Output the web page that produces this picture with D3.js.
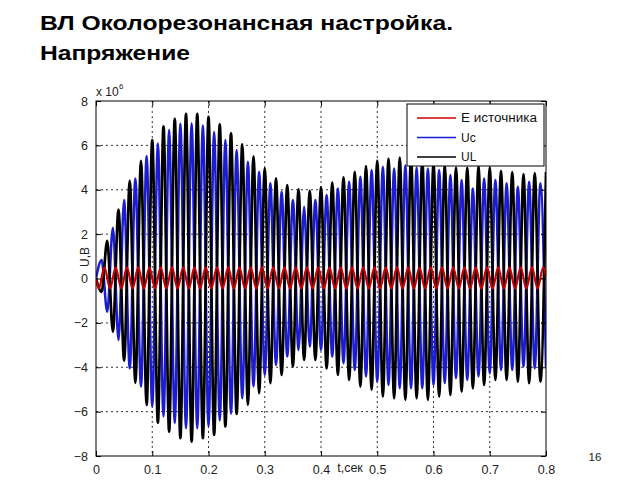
<!DOCTYPE html>
<html><head><meta charset="utf-8">
<script src="https://cdn.jsdelivr.net/npm/d3@7"></script>
<style>
body{margin:0;background:#fff;}
svg{display:block;font-family:"Liberation Sans",Arial,sans-serif;}
</style></head>
<body>
<script>
// ---- data (values in units of 1e6 V), extrema per half cycle ----
const tE = [0,0.005,0.015,0.025,0.035,0.045,0.055,0.065,0.075,0.085,0.095,0.105,0.115,0.125,0.135,0.145,0.155,0.165,0.175,0.185,0.195,0.205,0.215,0.225,0.235,0.245,0.255,0.265,0.275,0.285,0.295,0.305,0.315,0.325,0.335,0.345,0.355,0.365,0.375,0.385,0.395,0.405,0.415,0.425,0.435,0.445,0.455,0.465,0.475,0.485,0.495,0.505,0.515,0.525,0.535,0.545,0.555,0.565,0.575,0.585,0.595,0.605,0.615,0.625,0.635,0.645,0.655,0.665,0.675,0.685,0.695,0.705,0.715,0.725,0.735,0.745,0.755,0.765,0.775,0.785,0.795,0.8];
const E  = [0,-0.45,0.5,-0.45,0.5,-0.45,0.5,-0.45,0.5,-0.45,0.5,-0.45,0.5,-0.45,0.5,-0.45,0.5,-0.45,0.5,-0.45,0.5,-0.45,0.5,-0.45,0.5,-0.45,0.5,-0.45,0.5,-0.45,0.5,-0.45,0.5,-0.45,0.5,-0.45,0.5,-0.45,0.5,-0.45,0.5,-0.45,0.5,-0.45,0.5,-0.45,0.5,-0.45,0.5,-0.45,0.5,-0.45,0.5,-0.45,0.5,-0.45,0.5,-0.45,0.5,-0.45,0.5,-0.45,0.5,-0.45,0.5,-0.45,0.5,-0.45,0.5,-0.45,0.5,-0.45,0.5,-0.45,0.5,-0.45,0.5,-0.45,0.5,-0.45,0.5,0.1];
const tU = [0,0.01,0.02,0.03,0.04,0.05,0.06,0.07,0.08,0.09,0.10,0.11,0.12,0.13,0.14,0.15,0.16,0.17,0.18,0.19,0.20,0.21,0.22,0.23,0.24,0.25,0.26,0.27,0.28,0.29,0.30,0.31,0.32,0.33,0.34,0.35,0.36,0.37,0.38,0.39,0.40,0.41,0.42,0.43,0.44,0.45,0.46,0.47,0.48,0.49,0.50,0.51,0.52,0.53,0.54,0.55,0.56,0.57,0.58,0.59,0.60,0.61,0.62,0.63,0.64,0.65,0.66,0.67,0.68,0.69,0.70,0.71,0.72,0.73,0.74,0.75,0.76,0.77,0.78,0.79,0.80];
const UL = [0,-0.6,1.7,-2.4,3.1,-3.7,4.4,-4.7,5.3,-5.7,6.24,-6.5,6.86,-6.9,7.2,-7.2,7.42,-7.35,7.42,-7.2,7.29,-7.05,6.95,-6.67,6.54,-6.1,6.05,-5.7,5.5,-5.17,4.96,-4.72,4.51,-4.35,4.21,-3.97,4.02,-3.67,3.95,-3.67,4.11,-4.05,4.32,-4.35,4.56,-4.57,4.81,-4.87,5.07,-5.02,5.31,-5.32,5.4,-5.4,5.45,-5.47,5.45,-5.4,5.35,-5.47,5.2,-5.32,5.1,-5.25,5.0,-5.1,5.0,-4.95,5.05,-4.8,5.0,-4.57,4.85,-4.57,4.8,-4.65,4.7,-4.72,4.75,-4.65,4.8];
const Uc = [0,0.83,-1.5,2.29,-2.77,3.54,-4.05,4.51,-4.87,5.52,-5.77,6.09,-6.22,6.69,-6.52,6.99,-6.75,7.0,-6.75,6.91,-6.67,6.6,-6.4,6.24,-6.1,5.79,-5.4,5.26,-4.87,4.81,-4.35,4.29,-3.9,3.91,-3.52,3.54,-3.22,3.23,-3.07,3.54,-3.22,3.76,-3.52,4.06,-3.82,4.36,-4.12,4.59,-4.42,4.89,-4.65,5.04,-4.8,4.96,-4.95,5.1,-4.95,5.0,-4.95,4.96,-4.8,4.89,-4.72,4.66,-4.5,4.44,-4.57,4.06,-4.42,4.51,-4.27,4.44,-4.12,4.29,-4.12,4.14,-3.97,4.36,-4.05,4.29,-4.0];
const xTicks = [0,0.1,0.2,0.3,0.4,0.5,0.6,0.7,0.8];
const yTicks = [-8,-6,-4,-2,0,2,4,6,8];
const legendLabels = ["E  источника","Uc","UL"];
const colors = ["#cc0000","#1c1cd4","#000000"];

const W=640,H=480;
const L=96,R=546,T=101,B=456;
const svg=d3.select("body").append("svg").attr("width",W).attr("height",H);

svg.append("text").attr("x",40).attr("y",30).attr("font-size",21).attr("font-weight","bold").attr("fill","#000")
  .attr("textLength",413).attr("lengthAdjust","spacingAndGlyphs").text("ВЛ Околорезонансная настройка.");
svg.append("text").attr("x",40).attr("y",60).attr("font-size",21).attr("font-weight","bold").attr("fill","#000")
  .attr("textLength",150).attr("lengthAdjust","spacingAndGlyphs").text("Напряжение");

const x=d3.scaleLinear().domain([0,0.8]).range([L,R]);
const y=d3.scaleLinear().domain([-8,8]).range([B,T]);

// grid
const g=svg.append("g");
g.selectAll(".gx").data(xTicks.slice(1,-1)).join("line")
 .attr("x1",d=>x(d)).attr("x2",d=>x(d)).attr("y1",T).attr("y2",B)
 .attr("stroke","#000").attr("stroke-width",1).attr("stroke-dasharray","2,3").attr("opacity",0.8);
g.selectAll(".gy").data(yTicks.slice(1,-1)).join("line")
 .attr("x1",L).attr("x2",R).attr("y1",d=>y(d)).attr("y2",d=>y(d))
 .attr("stroke","#000").attr("stroke-width",1).attr("stroke-dasharray","2,3").attr("opacity",0.8);

// series
svg.append("clipPath").attr("id","c").append("rect").attr("x",L).attr("y",T).attr("width",R-L).attr("height",B-T);
const line=d3.line().x(d=>x(d[0])).y(d=>y(d[1])).curve(d3.curveMonotoneX);
const series=[{t:tU,v:Uc,c:colors[1],w:2.5},{t:tU,v:UL,c:colors[2],w:2.7},{t:tE,v:E,c:colors[0],w:2.2}];
const sg=svg.append("g").attr("clip-path","url(#c)");
series.forEach(s=>{
  sg.append("path").datum(s.t.map((t,i)=>[t,s.v[i]])).attr("d",line)
   .attr("fill","none").attr("stroke",s.c).attr("stroke-width",s.w).attr("stroke-linejoin","round");
});

// axes box and ticks
const xb=d3.axisBottom(x).tickValues(xTicks).tickFormat(d=>d===0?"0":d3.format(".1f")(d)).tickSizeInner(-5).tickSizeOuter(0).tickPadding(9);
const xt=d3.axisTop(x).tickValues(xTicks).tickFormat("").tickSizeInner(-5).tickSizeOuter(0);
const yl=d3.axisLeft(y).tickValues(yTicks).tickFormat(d3.format("d")).tickSizeInner(-5).tickSizeOuter(0).tickPadding(8);
const yr=d3.axisRight(y).tickValues(yTicks).tickFormat("").tickSizeInner(-5).tickSizeOuter(0);
[[xb,`translate(0,${B})`],[xt,`translate(0,${T})`],[yl,`translate(${L},0)`],[yr,`translate(${R},0)`]].forEach(([a,tr])=>{
  const gg=svg.append("g").attr("transform",tr).call(a);
  gg.select(".domain").remove();
  gg.selectAll("text").attr("font-size",12.5).attr("fill","#222").attr("font-family","'Liberation Sans',Arial,sans-serif");
});
svg.append("rect").attr("x",L).attr("y",T).attr("width",R-L).attr("height",B-T).attr("fill","none").attr("stroke","#000").attr("stroke-width",1);

// labels
svg.append("text").attr("x",96).attr("y",96).attr("font-size",12).attr("fill","#222").text("x 10");
svg.append("text").attr("x",119).attr("y",89).attr("font-size",8).attr("fill","#222").text("6");
svg.append("text").attr("transform","translate(89,257) rotate(-90)").attr("text-anchor","middle").attr("font-size",12).attr("fill","#222").text("U,B");
svg.append("text").attr("x",350).attr("y",472).attr("text-anchor","middle").attr("font-size",12.5).attr("fill","#222").text("t,сек");
svg.append("text").attr("x",595).attr("y",461).attr("text-anchor","middle").attr("font-size",11.5).attr("fill","#222").text("16");

// legend
const lg=svg.append("g");
lg.append("rect").attr("x",407).attr("y",104).attr("width",137).attr("height",62).attr("fill","#fff").attr("stroke","#000").attr("stroke-width",1);
legendLabels.forEach((lab,i)=>{
  const yy=118+i*19.5;
  lg.append("line").attr("x1",417).attr("x2",456).attr("y1",yy).attr("y2",yy).attr("stroke",colors[i]).attr("stroke-width",1.6);
  const tx=lg.append("text").attr("x",461).attr("y",yy+4).attr("font-size",12).attr("fill","#111").text(lab);
  if(i===0) tx.attr("textLength",76).attr("lengthAdjust","spacingAndGlyphs");
});
</script>
</body></html>
